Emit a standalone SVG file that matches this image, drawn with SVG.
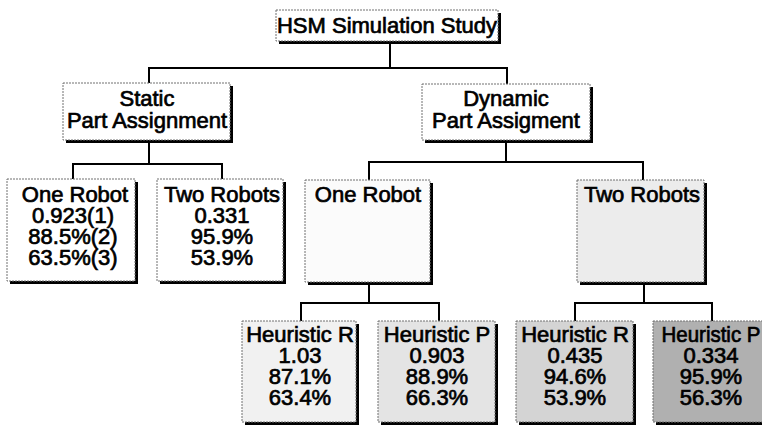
<svg xmlns="http://www.w3.org/2000/svg" width="762" height="425" viewBox="0 0 762 425">
<style>
.bx{stroke:#707070;stroke-width:1;stroke-dasharray:2 1}
.t{font-family:"Liberation Sans",Arial,sans-serif;font-size:22px;fill:#000;stroke:#000;stroke-width:0.7;text-anchor:middle}
.c{fill:none;stroke:#000;stroke-width:2}
</style>
<rect width="762" height="425" fill="#fff"/>
<g id="connectors">
<polyline class="c" points="390,43 390,68"/>
<polyline class="c" points="149,83 149,68 507,68 507,84"/>
<polyline class="c" points="149,143 149,164"/>
<polyline class="c" points="73,179 73,164 222,164 222,179"/>
<polyline class="c" points="506,143 506,162"/>
<polyline class="c" points="369,180 369,162 643,162 643,180"/>
<polyline class="c" points="369,285 369,303"/>
<polyline class="c" points="301,321 301,303 439,303 439,321"/>
<polyline class="c" points="644,285 644,303"/>
<polyline class="c" points="575,321 575,303 712,303 712,321"/>
</g>
<g id="n-hsm">
<rect x="279" y="13" width="222" height="31" fill="#000"/>
<rect class="bx" x="276" y="10" width="222" height="31" fill="#fff"/>
<text class="t" x="387" y="33">HSM Simulation Study</text>
</g>
<g id="n-static">
<rect x="66" y="86" width="167" height="57" fill="#000"/>
<rect class="bx" x="63" y="83" width="167" height="57" fill="#fff"/>
<text class="t" x="147" y="106">Static</text>
<text class="t" x="147" y="128">Part Assignment</text>
</g>
<g id="n-dynamic">
<rect x="425" y="87" width="168" height="56" fill="#000"/>
<rect class="bx" x="422" y="84" width="168" height="56" fill="#fff"/>
<text class="t" x="506" y="106">Dynamic</text>
<text class="t" x="506" y="128">Part Assigment</text>
</g>
<g id="n-s-one">
<rect x="10" y="182" width="128" height="102" fill="#000"/>
<rect class="bx" x="7" y="179" width="128" height="102" fill="#fff"/>
<text class="t" x="75" y="202">One Robot</text>
<text class="t" x="73" y="223">0.923(1)</text>
<text class="t" x="73" y="244">88.5%(2)</text>
<text class="t" x="73" y="265">63.5%(3)</text>
</g>
<g id="n-s-two">
<rect x="160" y="182" width="126" height="102" fill="#000"/>
<rect class="bx" x="157" y="179" width="126" height="102" fill="#fff"/>
<text class="t" x="222" y="202">Two Robots</text>
<text class="t" x="222" y="223">0.331</text>
<text class="t" x="222" y="244">95.9%</text>
<text class="t" x="222" y="265">53.9%</text>
</g>
<g id="n-d-one">
<rect x="308" y="183" width="125" height="102" fill="#000"/>
<rect class="bx" x="305" y="180" width="125" height="102" fill="#fbfbfb"/>
<text class="t" x="368" y="202">One Robot</text>
</g>
<g id="n-d-two">
<rect x="580" y="183" width="127" height="102" fill="#000"/>
<rect class="bx" x="577" y="180" width="127" height="102" fill="#ececec"/>
<text class="t" x="642" y="202">Two Robots</text>
</g>
<g id="n-hr1">
<rect x="245" y="324" width="114" height="101" fill="#000"/>
<rect class="bx" x="242" y="321" width="114" height="101" fill="#f1f1f1"/>
<text class="t" x="300" y="342">Heuristic R</text>
<text class="t" x="300" y="363">1.03</text>
<text class="t" x="300" y="384">87.1%</text>
<text class="t" x="300" y="405">63.4%</text>
</g>
<g id="n-hp1">
<rect x="381" y="324" width="117" height="101" fill="#000"/>
<rect class="bx" x="378" y="321" width="117" height="101" fill="#e4e4e4"/>
<text class="t" x="437" y="342">Heuristic P</text>
<text class="t" x="437" y="363">0.903</text>
<text class="t" x="437" y="384">88.9%</text>
<text class="t" x="437" y="405">66.3%</text>
</g>
<g id="n-hr2">
<rect x="519" y="324" width="117" height="101" fill="#000"/>
<rect class="bx" x="516" y="321" width="117" height="101" fill="#d4d4d4"/>
<text class="t" x="575" y="342">Heuristic R</text>
<text class="t" x="575" y="363">0.435</text>
<text class="t" x="575" y="384">94.6%</text>
<text class="t" x="575" y="405">53.9%</text>
</g>
<g id="n-hp2">
<rect x="656" y="324" width="117" height="101" fill="#000"/>
<rect class="bx" x="653" y="321" width="117" height="101" fill="#b0b0b0"/>
<text class="t" x="711" y="342" textLength="99" lengthAdjust="spacingAndGlyphs">Heuristic P</text>
<text class="t" x="711" y="363">0.334</text>
<text class="t" x="711" y="384">95.9%</text>
<text class="t" x="711" y="405">56.3%</text>
</g>
</svg>
